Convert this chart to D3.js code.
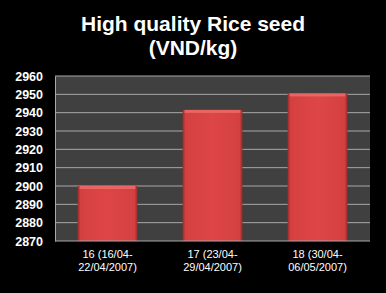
<!DOCTYPE html>
<html><head><meta charset="utf-8">
<script src="https://cdn.jsdelivr.net/npm/d3@7"></script>
<style>html,body{margin:0;padding:0;background:#000;}svg{display:block;}</style>
</head><body>
<script>
const categories = [["16 (16/04-","22/04/2007)"],["17 (23/04-","29/04/2007)"],["18 (30/04-","06/05/2007)"]];
const values = [2900, 2941.5, 2950.5];
const yTicks = [2870,2880,2890,2900,2910,2920,2930,2940,2950,2960];
const titleLines = ["High quality Rice seed","(VND/kg)"];

const W=386,H=293;
const svg=d3.select("body").append("svg").attr("width",W).attr("height",H);
svg.append("rect").attr("width",W).attr("height",H).attr("fill","#000");
const defs=svg.append("defs");
const g1=defs.append("linearGradient").attr("id","barH").attr("x1","0").attr("x2","1").attr("y1","0").attr("y2","0");
g1.append("stop").attr("offset","0").attr("stop-color","#9a2a2a");
g1.append("stop").attr("offset","0.05").attr("stop-color","#d44040");
g1.append("stop").attr("offset","0.5").attr("stop-color","#de4646");
g1.append("stop").attr("offset","0.95").attr("stop-color","#d44040");
g1.append("stop").attr("offset","1").attr("stop-color","#9a2a2a");

const mL=55,mR=370,mT=76,mB=241;
const x=d3.scaleBand().domain(d3.range(categories.length)).range([mL,mR]).paddingInner(0.43).paddingOuter(0.215);
const y=d3.scaleLinear().domain([2870,2960]).range([mB,mT]);

svg.append("rect").attr("x",mL).attr("y",mT).attr("width",mR-mL).attr("height",mB-mT).attr("fill","#404040");
svg.append("g").selectAll("line").data(yTicks.slice(1)).join("line")
  .attr("x1",mL).attr("x2",mR).attr("y1",d=>y(d)).attr("y2",d=>y(d))
  .attr("stroke","#a8a8a8").attr("stroke-width",1);

const bars=svg.append("g").selectAll("g").data(values).join("g");
bars.append("rect").attr("x",(d,i)=>x(i)).attr("y",d=>y(d)).attr("width",x.bandwidth()).attr("height",d=>mB-y(d))
  .attr("fill","url(#barH)");
bars.append("rect").attr("x",(d,i)=>x(i)+2).attr("y",d=>y(d)).attr("width",x.bandwidth()-4).attr("height",3)
  .attr("fill","#f07070").attr("opacity",0.75);

const ya=svg.append("g").attr("transform",`translate(${mL},0)`)
  .call(d3.axisLeft(y).tickValues(yTicks).tickSize(0).tickPadding(12).tickFormat(d3.format("d")));
ya.select(".domain").attr("stroke","#a8a8a8");
ya.selectAll("text").attr("fill","#fff").attr("font-family","Arial, 'Liberation Sans', sans-serif").attr("font-size","12.5px").attr("font-weight","bold");

svg.append("line").attr("x1",mL).attr("x2",mR).attr("y1",mB).attr("y2",mB).attr("stroke","#a8a8a8");

const xl=svg.append("g").selectAll("text").data(categories).join("text")
  .attr("x",(d,i)=>x(i)+x.bandwidth()/2).attr("y",258).attr("text-anchor","middle")
  .attr("fill","#fff").attr("font-family","Arial, 'Liberation Sans', sans-serif").attr("font-size","11px");
xl.selectAll("tspan").data(d=>d).join("tspan").attr("x",function(){return d3.select(this.parentNode).attr("x");})
  .attr("dy",(d,i)=>i?13:0).text(d=>d);

svg.append("g").selectAll("text").data(titleLines).join("text")
  .attr("x",193).attr("y",(d,i)=>31+i*24).attr("text-anchor","middle")
  .attr("fill","#fff").attr("font-family","Arial, 'Liberation Sans', sans-serif").attr("font-size","21px").attr("font-weight","bold")
  .text(d=>d);
</script>
</body></html>
